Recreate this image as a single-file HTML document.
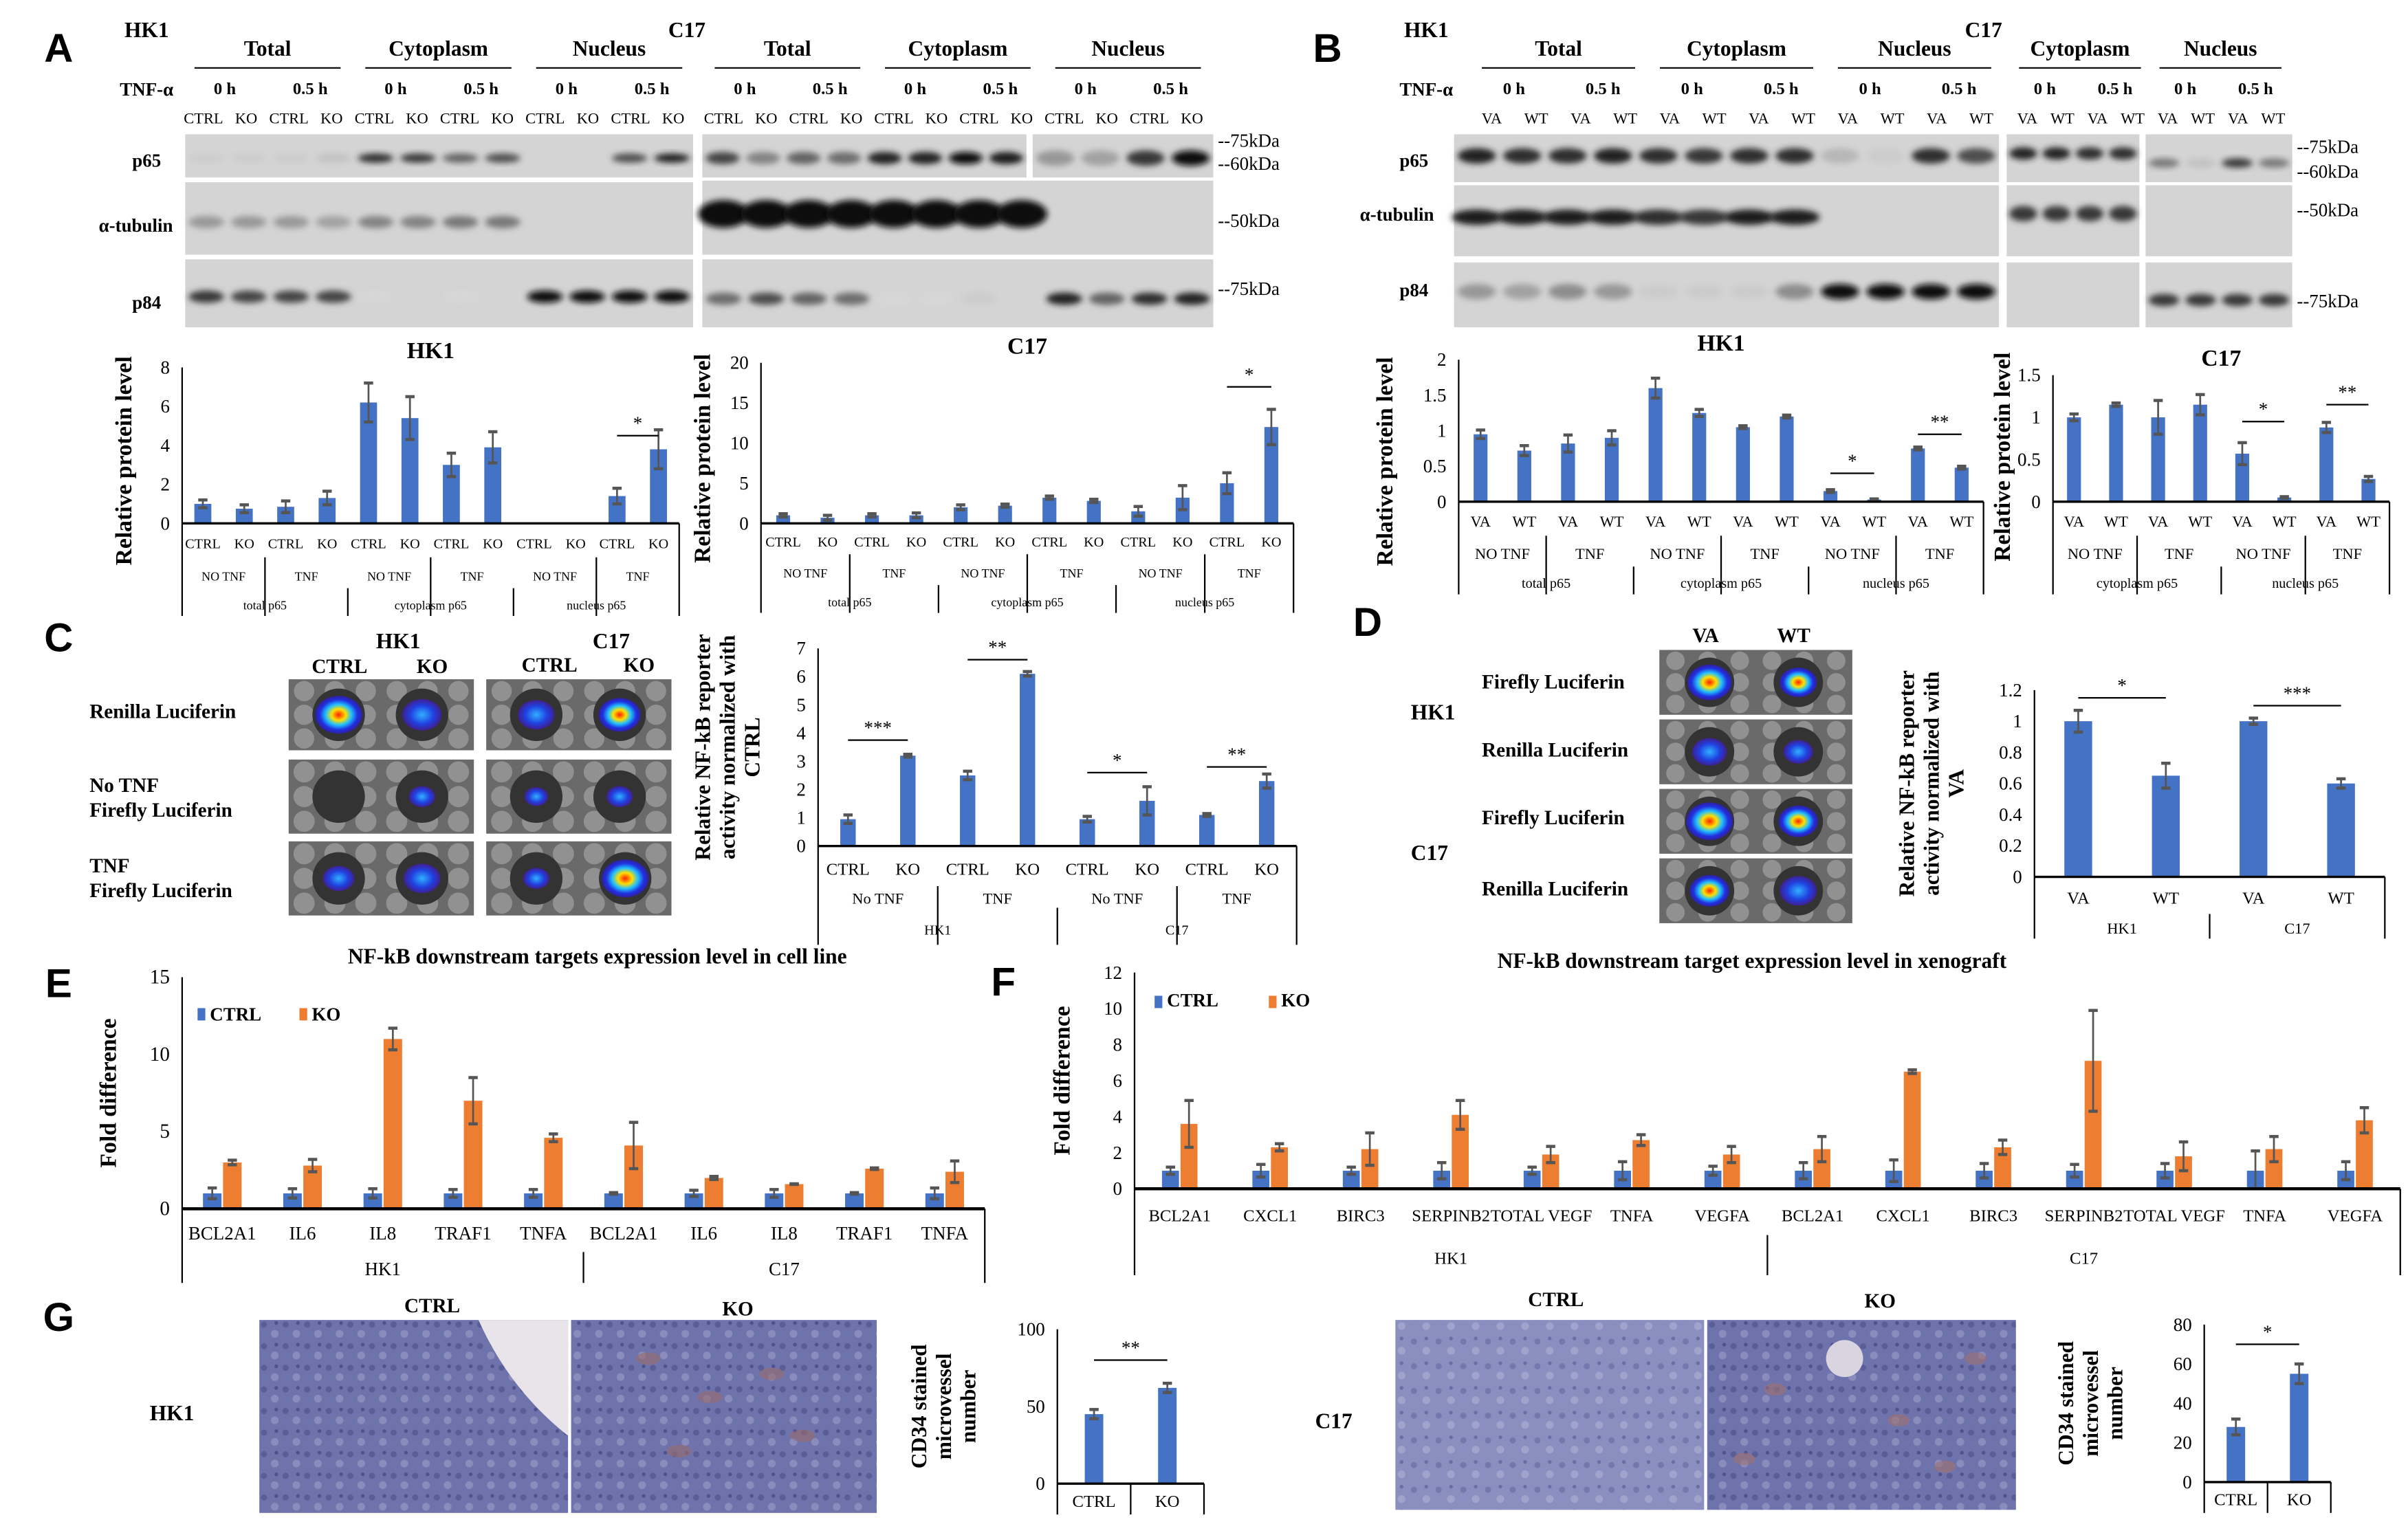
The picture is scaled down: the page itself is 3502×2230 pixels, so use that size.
<!DOCTYPE html>
<html><head><meta charset="utf-8"><style>
html,body{margin:0;padding:0;background:#fff}
svg{display:block}
text{font-family:"Liberation Serif",serif;fill:#000}
.pl{font-family:"Liberation Sans",sans-serif;font-weight:bold;font-size:26px}
.b{font-weight:bold}
</style></head><body>
<svg id="fig" width="3502" height="2230" viewBox="0 0 1560 993" preserveAspectRatio="none" xmlns="http://www.w3.org/2000/svg">
<defs>
<filter id="blur" x="-20%" y="-50%" width="140%" height="200%"><feGaussianBlur stdDeviation="2"/></filter>
<radialGradient id="lum"><stop offset="0" stop-color="#ff2000"/><stop offset="0.3" stop-color="#ffe000"/><stop offset="0.55" stop-color="#20c0ff"/><stop offset="0.8" stop-color="#2030e0"/><stop offset="1" stop-color="#3020a0"/></radialGradient>
<radialGradient id="lumw"><stop offset="0" stop-color="#30b0ff"/><stop offset="0.6" stop-color="#2040e0"/><stop offset="1" stop-color="#402090"/></radialGradient>
<pattern id="tissue" width="14" height="14" patternUnits="userSpaceOnUse"><rect width="14" height="14" fill="#6f73ab"/><circle cx="3" cy="4" r="2" fill="#5a5e98"/><circle cx="10" cy="10" r="2.5" fill="#8a8cbc"/><circle cx="11" cy="3" r="1.2" fill="#4e5290"/></pattern>
<pattern id="tissue2" width="16" height="16" patternUnits="userSpaceOnUse"><rect width="16" height="16" fill="#8a8fc0"/><circle cx="4" cy="5" r="2" fill="#7378ad"/><circle cx="12" cy="11" r="2.5" fill="#a0a4cc"/><circle cx="12" cy="3" r="1.2" fill="#6a6ea6"/></pattern>
</defs>
<g id="root"></g>
</svg>
<script>
// ===== Chart data =====
const aHK1Vals=[1.0,0.75,0.85,1.3,6.2,5.4,3.0,3.9,0,0,1.4,3.8];
const aHK1Errs=[0.2,0.2,0.3,0.35,1.0,1.1,0.6,0.8,0,0,0.4,1.0];
const aHK1Ticks=[0,2,4,6,8];
const aC17Vals=[1.0,0.7,1.0,1.0,2.0,2.2,3.2,2.8,1.5,3.2,5.0,12.0];
const aC17Errs=[0.2,0.3,0.2,0.3,0.3,0.2,0.2,0.2,0.6,1.5,1.3,2.2];
const aC17Ticks=[0,5,10,15,20];
const bHK1Vals=[0.95,0.72,0.82,0.9,1.6,1.25,1.05,1.2,0.15,0.03,0.75,0.48];
const bHK1Errs=[0.06,0.07,0.12,0.1,0.14,0.05,0.02,0.02,0.02,0.01,0.02,0.02];
const bHK1Ticks=[0,0.5,1,1.5,2];
const bC17Vals=[1.0,1.15,1.0,1.15,0.57,0.05,0.88,0.27];
const bC17Errs=[0.04,0.02,0.2,0.12,0.13,0.01,0.06,0.03];
const bC17Ticks=[0,0.5,1,1.5];
const cVals=[0.95,3.2,2.5,6.1,0.95,1.6,1.1,2.3];
const cErrs=[0.15,0.05,0.15,0.08,0.1,0.5,0.05,0.25];
const cTicks=[0,1,2,3,4,5,6,7];
const dVals=[1.0,0.65,1.0,0.6];
const dErrs=[0.07,0.08,0.02,0.03];
const dTicks=[0,0.2,0.4,0.6,0.8,1,1.2];
const eCats=["BCL2A1","IL6","IL8","TRAF1","TNFA","BCL2A1","IL6","IL8","TRAF1","TNFA"];
const eCtrl=[1,1,1,1,1,1,1,1,1,1];
const eCtrlErr=[0.35,0.3,0.3,0.25,0.25,0.05,0.2,0.25,0.05,0.35];
const eKO=[3.0,2.8,11.0,7.0,4.6,4.1,2.0,1.6,2.6,2.4];
const eKOErr=[0.15,0.4,0.7,1.5,0.25,1.5,0.1,0.02,0.05,0.7];
const eTicks=[0,5,10,15];
const fCats=["BCL2A1","CXCL1","BIRC3","SERPINB2","TOTAL VEGF","TNFA","VEGFA","BCL2A1","CXCL1","BIRC3","SERPINB2","TOTAL VEGF","TNFA","VEGFA"];
const fCtrl=[1,1,1,1,1,1,1,1,1,1,1,1,1,1];
const fCtrlErr=[0.2,0.35,0.2,0.45,0.2,0.5,0.25,0.45,0.6,0.4,0.35,0.4,1.1,0.5];
const fKO=[3.6,2.3,2.2,4.1,1.9,2.7,1.9,2.2,6.5,2.3,7.1,1.8,2.2,3.8];
const fKOErr=[1.3,0.2,0.9,0.8,0.45,0.3,0.45,0.7,0.1,0.4,2.8,0.8,0.7,0.7];
const fTicks=[0,2,4,6,8,10,12];
const gHK1Vals=[45,62];const gHK1Errs=[3,3];const gHK1Ticks=[0,50,100];
const gC17Vals=[28,55];const gC17Errs=[4,5];const gC17Ticks=[0,20,40,60,80];

const NS="http://www.w3.org/2000/svg";
const root=document.getElementById('root');
function el(tag,attrs,parent,txt){const e=document.createElementNS(NS,tag);for(const k in attrs)e.setAttribute(k,attrs[k]);if(txt!==undefined)e.textContent=txt;(parent||root).appendChild(e);return e;}
function T(x,y,s,size,opt){opt=opt||{};const t=el('text',{x:x,y:y,'font-size':size,'text-anchor':opt.a||'middle'},opt.p,s);if(opt.b)t.setAttribute('font-weight','bold');if(opt.rot)t.setAttribute('transform','rotate(-90 '+x+' '+y+')');if(opt.cls)t.setAttribute('class',opt.cls);return t;}
function L(x1,y1,x2,y2,w,p,c){return el('line',{x1:x1,y1:y1,x2:x2,y2:y2,stroke:c||'#000','stroke-width':w||1},p);}

const BLUE='#4472c4',ORANGE='#ed7d31',ERR='#555';

function chart(o){
  const g=el('g',{});
  const ys=v=>o.yb-(v/o.max)*(o.yb-o.yt);
  L(o.x0,o.yt,o.x0,o.yb,1,g);
  o.ticks.forEach(t=>{const tl=T(o.x0-8,ys(t)+4,String(t),o.tf||12,{a:'end',p:g});});
  const n=o.n, W=(o.x1-o.x0)/n;
  const series=o.series;
  series.forEach((s,si)=>{
    s.vals.forEach((v,i)=>{
      let cx;
      if(series.length===1) cx=o.x0+(i+0.5)*W;
      else cx=o.x0+(i+0.5)*W+(si-0.5)*(o.bw+1);
      const y=ys(v);
      const r=el('rect',{x:cx-o.bw/2,y:y,width:o.bw,height:o.yb-y,fill:s.color},g);
      
      if(s.errs&&s.errs[i]>0){const e1=ys(v+s.errs[i]),e2=ys(Math.max(0,v-s.errs[i]));
        const eg=el('g',{},g);
        L(cx,e1,cx,e2,1.2,eg,ERR);L(cx-3,e1,cx+3,e1,2,eg,ERR);L(cx-3,e2,cx+3,e2,2,eg,ERR);}
    });
  });
  L(o.x0,o.yb,o.x1,o.yb,o.axw||1.5,g);
  let y=o.yb;
  (o.levels||[]).forEach((lv,li)=>{
    const span=lv.span, h=lv.h;
    lv.labels.forEach((lab,k)=>{const c=o.x0+(k+0.5)*span*W;const t=T(c,y+h*0.6+3,lab,lv.f||9,{p:g});});
    y+=h;
  });
  if(o.levels){
    const hs=o.levels.map(l=>l.h);const total=hs.reduce((a,b)=>a+b,0);
    for(let i=0;i<=n;i++){
      let depth=0;
      for(let li=o.levels.length-1;li>=0;li--){if(i%o.levels[li].span===0){depth=li;break;}}
      let start=o.yb;for(let li=0;li<depth;li++)start+=hs[li];
      if(i===0||i===n)start=o.yb;
      if(o.levels[0].span===1&&depth===0&&o.levels.length>1&&o.levels[1].span>1){continue;}
      L(o.x0+i*W,start,o.x0+i*W,o.yb+total,1,g);
    }
  }
  if(o.title)T((o.x0+o.x1)/2,o.yt-6,o.title,15,{b:true,p:g,name:'chart-title'});
  if(o.ylab)o.ylab.forEach((s,k)=>{const t=T(o.ylx+k*16,(o.yt+o.yb)/2+(o.ylo||0),s,o.ylf||15,{b:true,rot:true,p:g,name:'y-axis-title'});});
  (o.sig||[]).forEach(sg=>{const c1=o.x0+(sg[0]+0.5)*W,c2=o.x0+(sg[1]+0.5)*W;const yy=ys(sg[2]);L(c1,yy,c2,yy,1,g);T((c1+c2)/2,yy-4,sg[3],12,{p:g,name:'significance-marker'});});
  return g;
}

[['A',38,40],['B',860,40],['C',38,422],['D',886,412],['E',38,646],['F',650,645],['G',38,862]].forEach(p=>{T(p[1],p[2],p[0],26,{cls:'pl',name:'panel-label-'+p[0].toLowerCase()});});

function blot(x,y,w,h,lanes,ints,bandY,bh,name,rxf){
  const g=el('g',{});
  el('rect',{x:x,y:y,width:w,height:h,fill:'#d4d4d4'},g);
  const lw=w/lanes;
  ints.forEach((v,i)=>{if(v<=0)return;const c=Math.round(225-v*210);
    el('ellipse',{cx:x+(i+0.5)*lw,cy:y+h*bandY,rx:lw*(rxf||0.42),ry:bh,fill:'rgb('+c+','+c+','+c+')',filter:'url(#blur)'},g);});
  return g;
}
function headers(x0,w,groups,lanes){
  const gw=w/groups.length;
  groups.forEach((s,i)=>{T(x0+(i+0.5)*gw,36,s,14,{b:true,name:'fraction-header'});L(x0+i*gw+8,44,x0+(i+1)*gw-8,44,1);
    T(x0+i*gw+gw*0.25,61,'0 h',11,{b:true,name:'time-label'});T(x0+i*gw+gw*0.75,61,'0.5 h',11,{b:true,name:'time-label'});});
  const lw=w/lanes.length;lanes.forEach((s,i)=>T(x0+(i+0.5)*lw,80,s,10,{name:'lane-label'}));
}
const ck=[];for(let i=0;i<6;i++)ck.push('CTRL','KO');
const vw=[];for(let i=0;i<6;i++)vw.push('VA','WT');
T(95,24,'HK1',14,{b:true});T(445,24,'C17',14,{b:true});T(95,62,'TNF-α',12,{b:true});
headers(118,332,['Total','Cytoplasm','Nucleus'],ck);
headers(455,331,['Total','Cytoplasm','Nucleus'],ck);
T(95,108,'p65',12,{b:true});T(88,150,'α-tubulin',12,{b:true});T(95,200,'p84',12,{b:true});
blot(120,87,329,28,12,[0.1,0.1,0.1,0.15,0.85,0.8,0.6,0.7,0,0,0.7,0.9],0.55,3,'blot-a-hk1-p65');
blot(120,118,329,47,12,[0.35,0.35,0.35,0.3,0.45,0.45,0.5,0.5,0,0,0,0],0.55,4,'blot-a-hk1-tubulin');
blot(120,168,329,44,12,[0.8,0.75,0.75,0.75,0.05,0,0.05,0,1,1,1,1],0.55,4,'blot-a-hk1-p84');
blot(455,87,210,28,8,[0.75,0.45,0.6,0.55,0.9,0.9,1,0.95],0.55,4,'blot-a-c17-p65');
blot(669,87,117,28,4,[0.35,0.3,0.8,1],0.55,5,'blot-a-c17-p65-nuc');
blot(455,117,331,48,12,[1,1,1,1,1,1,1,1,0,0,0,0],0.45,9,'blot-a-c17-tubulin',0.6);
blot(455,168,331,44,12,[0.55,0.7,0.6,0.55,0.05,0.05,0.1,0,0.9,0.6,0.85,0.9],0.58,4,'blot-a-c17-p84');
[['--75kDa',95],['--60kDa',110],['--50kDa',147],['--75kDa',191]].forEach(k=>T(789,k[1],k[0],12,{a:'start',name:'mw-marker'}));
// B blots
T(924,24,'HK1',14,{b:true});T(1285,24,'C17',14,{b:true});T(924,62,'TNF-α',12,{b:true});
headers(952,346,['Total','Cytoplasm','Nucleus'],vw);
(function(){const x0=1302,w=182;['Cytoplasm','Nucleus'].forEach((s,i)=>{T(x0+(i+0.5)*w/2,36,s,14,{b:true,name:'fraction-header'});L(x0+i*w/2+6,44,x0+(i+1)*w/2-6,44,1);
T(x0+i*w/2+w*0.125,61,'0 h',11,{b:true});T(x0+i*w/2+w*0.375,61,'0.5 h',11,{b:true});});
for(let i=0;i<8;i++)T(x0+(i+0.5)*w/8,80,i%2?'WT':'VA',10);})();
T(916,108,'p65',12,{b:true});T(905,143,'α-tubulin',12,{b:true});T(916,192,'p84',12,{b:true});
blot(942,87,353,31,12,[0.9,0.85,0.85,0.9,0.85,0.8,0.85,0.85,0.2,0.1,0.85,0.7],0.45,5,'blot-b-hk1-p65');
blot(942,120,353,46,12,[0.95,0.95,0.95,0.95,0.85,0.8,0.95,0.95,0,0,0,0],0.45,5,'blot-b-hk1-tubulin',0.55);
blot(942,170,353,42,12,[0.35,0.3,0.4,0.35,0.1,0.1,0.1,0.4,1,1,1,1],0.45,5,'blot-b-hk1-p84');
blot(1300,87,86,31,4,[0.9,0.9,0.85,0.85],0.4,4,'blot-b-c17-p65-cyto');
blot(1390,87,95,31,4,[0.5,0.15,0.8,0.5],0.6,3,'blot-b-c17-p65-nuc');
blot(1300,120,86,46,4,[0.8,0.8,0.8,0.8],0.4,5,'blot-b-c17-tubulin-cyto');
blot(1390,120,95,46,4,[0,0,0,0],0.4,5,'blot-b-c17-tubulin-nuc');
blot(1300,170,86,42,4,[0,0,0,0],0.5,4,'blot-b-c17-p84-cyto');
blot(1390,170,95,42,4,[0.8,0.8,0.8,0.8],0.58,4,'blot-b-c17-p84-nuc');
[['--75kDa',99],['--60kDa',115],['--50kDa',140],['--75kDa',199]].forEach(k=>T(1488,k[1],k[0],12,{a:'start',name:'mw-marker'}));

const tnf6=['NO TNF','TNF','NO TNF','TNF','NO TNF','TNF'];
chart({name:'chart-a-hk1',x0:118,x1:440,yb:339,yt:238,max:8,ticks:aHK1Ticks,n:12,bw:11,series:[{vals:aHK1Vals,errs:aHK1Errs,color:BLUE}],
 levels:[{labels:ck,span:1,h:22,f:9},{labels:tnf6,span:2,h:20,f:8},{labels:['total p65','cytoplasm p65','nucleus p65'],span:4,h:18,f:8}],
 title:'HK1',ylab:['Relative protein level'],ylx:85,ylo:10,sig:[[10,11,4.5,'*']]});
chart({name:'chart-a-c17',x0:493,x1:838,yb:339,yt:235,max:20,ticks:aC17Ticks,n:12,bw:9,series:[{vals:aC17Vals,errs:aC17Errs,color:BLUE}],
 levels:[{labels:ck,span:1,h:20,f:9},{labels:tnf6,span:2,h:20,f:8},{labels:['total p65','cytoplasm p65','nucleus p65'],span:4,h:18,f:8}],
 title:'C17',ylab:['Relative protein level'],ylx:460,ylo:10,sig:[[10,11,17,'*']]});
chart({name:'chart-b-hk1',x0:945,x1:1285,yb:325,yt:233,max:2,ticks:bHK1Ticks,n:12,bw:9,series:[{vals:bHK1Vals,errs:bHK1Errs,color:BLUE}],
 levels:[{labels:vw,span:1,h:22,f:10},{labels:tnf6,span:2,h:20,f:10},{labels:['total p65','cytoplasm p65','nucleus p65'],span:4,h:18,f:9}],
 title:'HK1',ylab:['Relative protein level'],ylx:902,ylo:20,sig:[[8,9,0.4,'*'],[10,11,0.95,'**']]});
chart({name:'chart-b-c17',x0:1330,x1:1548,yb:325,yt:243,max:1.5,ticks:bC17Ticks,n:8,bw:9,series:[{vals:bC17Vals,errs:bC17Errs,color:BLUE}],
 levels:[{labels:['VA','WT','VA','WT','VA','WT','VA','WT'],span:1,h:22,f:10},{labels:['NO TNF','TNF','NO TNF','TNF'],span:2,h:20,f:10},{labels:['cytoplasm p65','nucleus p65'],span:4,h:18,f:9}],
 title:'C17',ylab:['Relative protein level'],ylx:1302,ylo:12,sig:[[4,5,0.95,'*'],[6,7,1.15,'**']]});

function plate(x,y,w,h,spots,name){
  const g=el('g',{});
  el('rect',{x:x,y:y,width:w,height:h,fill:'#6a6a6a'},g);
  for(let i=0;i<6;i++)for(let j=0;j<3;j++)el('circle',{cx:x+w*(i+0.5)/6,cy:y+h*(j+0.5)/3,r:Math.min(w/14,h/7),fill:'#b8b8b8',opacity:0.5},g);
  spots.forEach(s=>{el('circle',{cx:x+s[0]*w,cy:y+s[1]*h,r:s[2],fill:'#333'},g);if(s[3])el('ellipse',{cx:x+s[0]*w,cy:y+s[1]*h,rx:s[2]*s[3],ry:s[2]*s[3]*0.8,fill:s[4]||'url(#lum)'},g);});
}
T(258,420,'HK1',14,{b:true});T(396,420,'C17',14,{b:true});
T(220,436,'CTRL',13,{b:true});T(280,436,'KO',13,{b:true});T(356,435,'CTRL',13,{b:true});T(414,435,'KO',13,{b:true});
T(58,465,'Renilla Luciferin',13,{b:true,a:'start'});T(58,513,'No TNF',13,{b:true,a:'start'});T(58,529,'Firefly Luciferin',13,{b:true,a:'start'});T(58,565,'TNF',13,{b:true,a:'start'});T(58,581,'Firefly Luciferin',13,{b:true,a:'start'});
plate(187,440,120,46,[[0.27,0.5,17,0.9],[0.72,0.5,17,0.75,'url(#lumw)']],'luciferase-hk1-renilla');
plate(315,440,120,46,[[0.27,0.5,17,0.7,'url(#lumw)'],[0.72,0.5,17,0.8]],'luciferase-c17-renilla');
plate(187,492,120,48,[[0.27,0.5,17,0],[0.72,0.5,17,0.5,'url(#lumw)']],'luciferase-hk1-notnf');
plate(315,492,120,48,[[0.27,0.5,17,0.45,'url(#lumw)'],[0.72,0.5,17,0.5,'url(#lumw)']],'luciferase-c17-notnf');
plate(187,545,120,48,[[0.27,0.5,17,0.6,'url(#lumw)'],[0.72,0.5,17,0.7,'url(#lumw)']],'luciferase-hk1-tnf');
plate(315,545,120,48,[[0.27,0.5,17,0.5,'url(#lumw)'],[0.75,0.5,17,0.9]],'luciferase-c17-tnf');
chart({name:'chart-c-reporter',x0:530,x1:840,yb:548,yt:420,max:7,ticks:cTicks,n:8,bw:10,series:[{vals:cVals,errs:cErrs,color:BLUE}],
 levels:[{labels:['CTRL','KO','CTRL','KO','CTRL','KO','CTRL','KO'],span:1,h:26,f:11},{labels:['No TNF','TNF','No TNF','TNF'],span:2,h:14,f:10},{labels:['HK1','C17'],span:4,h:24,f:9}],
 ylab:['Relative NF-kB reporter','activity normalized with','CTRL'],ylx:460,ylo:0,ylf:14,sig:[[0,1,3.75,'***'],[2,3,6.6,'**'],[4,5,2.6,'*'],[6,7,2.8,'**']]});

T(1105,416,'VA',13,{b:true});T(1162,416,'WT',13,{b:true});
T(960,446,'Firefly Luciferin',13,{b:true,a:'start'});T(914,466,'HK1',14,{b:true,a:'start'});T(960,490,'Renilla Luciferin',13,{b:true,a:'start'});
T(960,534,'Firefly Luciferin',13,{b:true,a:'start'});T(914,557,'C17',14,{b:true,a:'start'});T(960,580,'Renilla Luciferin',13,{b:true,a:'start'});
plate(1075,421,125,42,[[0.26,0.5,16,0.9],[0.72,0.5,16,0.75]],'luciferase-d-hk1-firefly');
plate(1075,466,125,42,[[0.26,0.5,16,0.7,'url(#lumw)'],[0.72,0.5,16,0.6,'url(#lumw)']],'luciferase-d-hk1-renilla');
plate(1075,511,125,42,[[0.26,0.5,16,0.95],[0.72,0.5,16,0.8]],'luciferase-d-c17-firefly');
plate(1075,556,125,42,[[0.26,0.5,16,0.8],[0.72,0.5,16,0.75,'url(#lumw)']],'luciferase-d-c17-renilla');
chart({name:'chart-d-reporter',x0:1318,x1:1545,yb:568,yt:447,max:1.2,ticks:dTicks,n:4,bw:18,series:[{vals:dVals,errs:dErrs,color:BLUE}],
 levels:[{labels:['VA','WT','VA','WT'],span:1,h:24,f:11},{labels:['HK1','C17'],span:2,h:16,f:10}],
 ylab:['Relative NF-kB reporter','activity normalized with','VA'],ylx:1240,ylo:0,ylf:14,sig:[[0,1,1.15,'*'],[2,3,1.1,'***']]});

T(387,624,'NF-kB downstream targets expression level in cell line',14,{b:true,name:'chart-e-title'});
chart({name:'chart-e-expression',x0:118,x1:638,yb:783,yt:633,max:15,ticks:eTicks,tf:13,n:10,bw:12,axw:2,
 series:[{vals:eCtrl,errs:eCtrlErr,color:BLUE},{vals:eKO,errs:eKOErr,color:ORANGE}],
 levels:[{labels:eCats,span:1,h:28,f:12},{labels:['HK1','C17'],span:5,h:20,f:12}],
 ylab:['Fold difference'],ylx:75,ylo:0});
el('rect',{x:128,y:653,width:5,height:8,fill:BLUE});T(136,661,'CTRL',12,{a:'start',b:true,name:'legend-ctrl'});
el('rect',{x:194,y:653,width:5,height:8,fill:ORANGE});T(202,661,'KO',12,{a:'start',b:true,name:'legend-ko'});

T(1135,627,'NF-kB downstream target expression level in xenograft',14,{b:true,name:'chart-f-title'});
chart({name:'chart-f-expression',x0:735,x1:1555,yb:770,yt:630,max:12,ticks:fTicks,tf:12,n:14,bw:11,axw:2,
 series:[{vals:fCtrl,errs:fCtrlErr,color:BLUE},{vals:fKO,errs:fKOErr,color:ORANGE}],
 levels:[{labels:fCats,span:1,h:30,f:11},{labels:['HK1','C17'],span:7,h:26,f:11}],
 ylab:['Fold difference'],ylx:693,ylo:0});
el('rect',{x:748,y:645,width:5,height:8,fill:BLUE});T(756,652,'CTRL',12,{a:'start',b:true,name:'legend-ctrl'});
el('rect',{x:822,y:645,width:5,height:8,fill:ORANGE});T(830,652,'KO',12,{a:'start',b:true,name:'legend-ko'});

T(280,850,'CTRL',13,{b:true});T(478,852,'KO',13,{b:true});T(97,920,'HK1',14,{b:true,a:'start'});
let r1=el('rect',{x:168,y:855,width:200,height:125,fill:'url(#tissue)'});
el('path',{d:'M310 855 Q330 900 368 930 L368 855 Z',fill:'#e8e4ea'});
let r2=el('rect',{x:370,y:855,width:198,height:125,fill:'url(#tissue)'});
[[420,880],[460,905],[500,890],[520,930],[440,940]].forEach(p=>el('ellipse',{cx:p[0],cy:p[1],rx:8,ry:4,fill:'#9a6a6a',opacity:0.6}));
chart({name:'chart-g-hk1',x0:685,x1:780,yb:961,yt:861,max:100,ticks:gHK1Ticks,n:2,bw:12,series:[{vals:gHK1Vals,errs:gHK1Errs,color:BLUE}],
 levels:[{labels:['CTRL','KO'],span:1,h:20,f:11}],ylab:['CD34 stained','microvessel','number'],ylx:600,ylf:14,sig:[[0,1,80,'**']]});
T(1008,846,'CTRL',13,{b:true});T(1218,847,'KO',13,{b:true});T(852,925,'C17',14,{b:true,a:'start'});
let r3=el('rect',{x:904,y:855,width:200,height:123,fill:'url(#tissue2)'});
let r4=el('rect',{x:1106,y:855,width:200,height:123,fill:'url(#tissue)'});
el('circle',{cx:1195,cy:880,r:12,fill:'#d8d4e0'});
[[1150,900],[1230,920],[1260,950],[1130,945],[1280,880]].forEach(p=>el('ellipse',{cx:p[0],cy:p[1],rx:7,ry:4,fill:'#a07070',opacity:0.6}));
chart({name:'chart-g-c17',x0:1428,x1:1510,yb:960,yt:858,max:80,ticks:gC17Ticks,n:2,bw:12,series:[{vals:gC17Vals,errs:gC17Errs,color:BLUE}],
 levels:[{labels:['CTRL','KO'],span:1,h:20,f:11}],ylab:['CD34 stained','microvessel','number'],ylx:1343,ylf:14,sig:[[0,1,70,'*']]});
</script>
</body></html>
